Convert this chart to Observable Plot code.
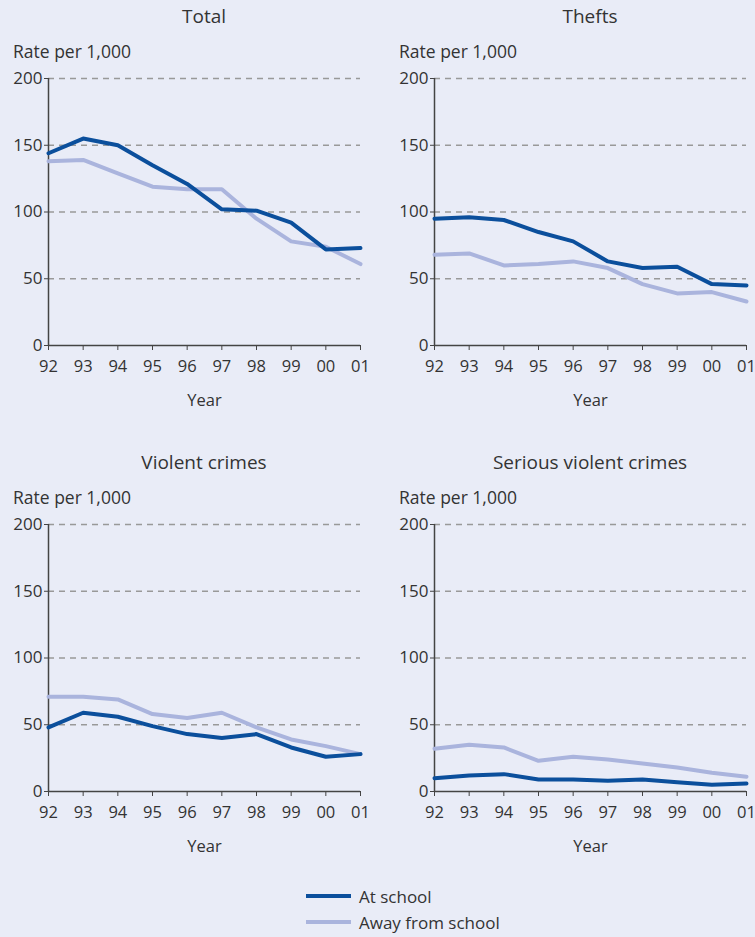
<!DOCTYPE html>
<html>
<head>
<meta charset="utf-8">
<script src="https://cdn.jsdelivr.net/npm/d3@7"></script>
<script src="https://cdn.jsdelivr.net/npm/@observablehq/plot@0.6"></script>
<style>
  html, body { margin: 0; padding: 0; background: #e9ecf7; }
  #root { position: relative; width: 755px; height: 937px; background: #e9ecf7; font-family: "Open Sans", sans-serif; color: #333; overflow: hidden; }
  .panel { position: absolute; width: 374px; height: 350px; }
  .panel svg { max-width: none !important; overflow: visible; }
  .title { position: absolute; font-size: 19px; line-height: 24px; text-align: center; transform: translateX(-50%); white-space: nowrap; }
  .ylab { position: absolute; font-size: 17.5px; line-height: 22px; white-space: nowrap; }
  .legend { position: absolute; left: 306px; font-size: 17px; }
  .legend .row { display: flex; align-items: center; height: 26px; }
  .legend .sw { width: 45px; height: 4px; margin-right: 8px; }
</style>
</head>
<body>
<div id="root"></div>
<script>
const years = [1992, 1993, 1994, 1995, 1996, 1997, 1998, 1999, 2000, 2001];
const yearLabels = ["92", "93", "94", "95", "96", "97", "98", "99", "00", "01"];
const seriesNames = ["At school", "Away from school"];
const seriesColors = ["#0b4f9c", "#aab4dd"];
const yTicks = [0, 50, 100, 150, 200];

const panelTitles = ["Total", "Thefts", "Violent crimes", "Serious violent crimes"];

const totalAtSchool   = [144, 155, 150, 135, 121, 102, 101, 92, 72, 73];
const totalAway       = [138, 139, 129, 119, 117, 117, 95, 78, 74, 61];
const theftsAtSchool  = [95, 96, 94, 85, 78, 63, 58, 59, 46, 45];
const theftsAway      = [68, 69, 60, 61, 63, 58, 46, 39, 40, 33];
const violentAtSchool = [48, 59, 56, 49, 43, 40, 43, 33, 26, 28];
const violentAway     = [71, 71, 69, 58, 55, 59, 48, 39, 34, 28];
const seriousAtSchool = [10, 12, 13, 9, 9, 8, 9, 7, 5, 6];
const seriousAway     = [32, 35, 33, 23, 26, 24, 21, 18, 14, 11];

const panelData = [
  [totalAtSchool, totalAway],
  [theftsAtSchool, theftsAway],
  [violentAtSchool, violentAway],
  [seriousAtSchool, seriousAway]
];

const root = document.getElementById("root");
const layout = [
  {left: 0,   top: 60,  titleX: 204, titleY: 4,   labX: 13,  labY: 40},
  {left: 386, top: 60,  titleX: 590, titleY: 4,   labX: 399, labY: 40},
  {left: 0,   top: 506, titleX: 204, titleY: 450, labX: 13,  labY: 486},
  {left: 386, top: 506, titleX: 590, titleY: 450, labX: 399, labY: 486}
];

panelData.forEach((series, i) => {
  const rows = [];
  series.forEach((vals, s) => vals.forEach((v, k) => rows.push({year: years[k], value: v, series: seriesNames[s]})));
  const L = layout[i];

  const chart = Plot.plot({
    width: 374,
    height: 350,
    marginLeft: 48,
    marginRight: 14,
    marginTop: 18,
    marginBottom: 65,
    style: {background: "transparent", fontFamily: "'Open Sans', sans-serif", fontSize: "17px", color: "#333", maxWidth: "none"},
    x: {domain: [1992, 2001]},
    y: {domain: [0, 200]},
    color: {domain: seriesNames, range: seriesColors},
    marks: [
      Plot.ruleY(yTicks.filter(d => d > 0), {x1: 1992, x2: 2001, stroke: "#999", strokeWidth: 1.5, strokeDasharray: "6,5"}),
      Plot.axisY({ticks: yTicks, tickSize: 4, tickPadding: 2, label: null, stroke: "#444", fontSize: 17}),
      Plot.axisX({ticks: years, tickSize: 5, tickPadding: 10, tickFormat: d => yearLabels[years.indexOf(d)], label: "Year", labelAnchor: "center", labelArrow: "none", labelOffset: 60, stroke: "#444", fontSize: 16.5}),
      Plot.ruleX([1992], {y1: 0, y2: 200, stroke: "#444", strokeWidth: 1.5}),
      Plot.ruleY([0], {x1: 1992, x2: 2001, stroke: "#444", strokeWidth: 1.5}),
      Plot.line(rows.filter(d => d.series === seriesNames[1]), {x: "year", y: "value", stroke: "series", strokeWidth: 4}),
      Plot.line(rows.filter(d => d.series === seriesNames[0]), {x: "year", y: "value", stroke: "series", strokeWidth: 4})
    ]
  });
  const wrap = document.createElement("div");
  wrap.className = "panel";
  wrap.style.left = L.left + "px";
  wrap.style.top = L.top + "px";
  wrap.appendChild(chart);
  root.appendChild(wrap);

  const t = document.createElement("div");
  t.className = "title";
  t.style.left = L.titleX + "px";
  t.style.top = L.titleY + "px";
  t.textContent = panelTitles[i];
  root.appendChild(t);

  const yl = document.createElement("div");
  yl.className = "ylab";
  yl.style.left = L.labX + "px";
  yl.style.top = L.labY + "px";
  yl.textContent = "Rate per 1,000";
  root.appendChild(yl);
});

const legend = document.createElement("div");
legend.className = "legend";
legend.style.top = "883px";
seriesNames.forEach((name, s) => {
  const row = document.createElement("div");
  row.className = "row";
  const sw = document.createElement("div");
  sw.className = "sw";
  sw.style.background = seriesColors[s];
  const tx = document.createElement("span");
  tx.textContent = name;
  row.appendChild(sw);
  row.appendChild(tx);
  legend.appendChild(row);
});
root.appendChild(legend);
</script>
</body>
</html>
